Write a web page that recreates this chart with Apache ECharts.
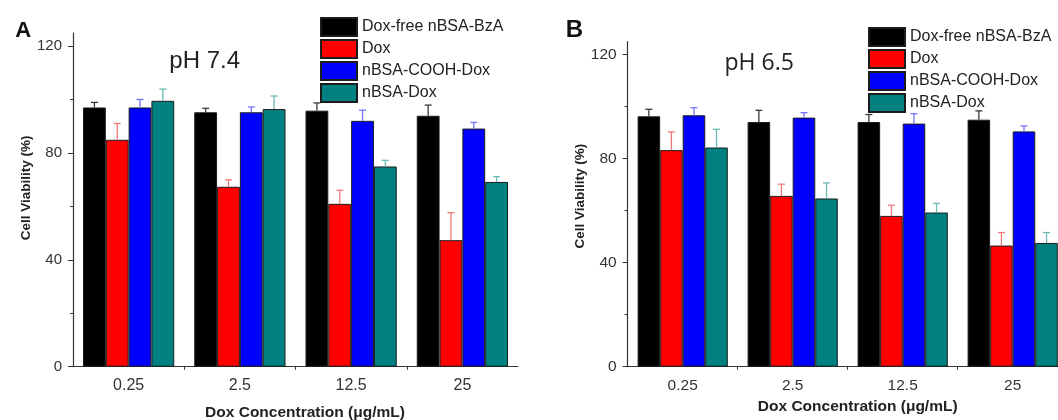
<!DOCTYPE html>
<html>
<head>
<meta charset="utf-8">
<script src="https://cdn.jsdelivr.net/npm/echarts@6/dist/echarts.min.js"></script>
<style>
  html, body { margin: 0; padding: 0; background: #ffffff; }
  #chart { width: 1058px; height: 420px; }
</style>
</head>
<body>
<div id="chart"></div>
<script>
// ---------- data ----------
const categories = ['0.25', '2.5', '12.5', '25'];
const seriesNames = ['Dox-free nBSA-BzA', 'Dox', 'nBSA-COOH-Dox', 'nBSA-Dox'];
const yTickMajor = [0, 40, 80, 120];
const yTickMinor = [20, 60, 100];

// Panel A: pH 7.4
const aFree = [97.1, 95.3, 95.9, 94.0];
const aFreeErr = [1.9, 1.5, 2.9, 4.0];
const aDox = [85.0, 67.4, 61.0, 47.4];
const aDoxErr = [6.1, 2.6, 5.1, 10.3];
const aCooh = [97.1, 95.3, 92.1, 89.2];
const aCoohErr = [3.0, 2.0, 4.0, 2.3];
const aNbsa = [99.6, 96.5, 75.0, 69.2];
const aNbsaErr = [4.4, 4.9, 2.3, 2.0];

// Panel B: pH 6.5
const bFree = [96.3, 94.1, 94.1, 95.0];
const bFreeErr = [2.7, 4.5, 2.9, 3.4];
const bDox = [83.3, 65.7, 58.0, 46.6];
const bDoxErr = [7.0, 4.5, 4.1, 5.0];
const bCooh = [96.7, 95.8, 93.5, 90.5];
const bCoohErr = [2.9, 1.9, 3.8, 2.1];
const bNbsa = [84.3, 64.7, 59.3, 47.6];
const bNbsaErr = [7.0, 6.0, 3.5, 4.0];

// ---------- styles ----------
const barColors = ['#000000', '#ff0000', '#0000ff', '#008080'];
const errColors = ['#3a3a3a', '#f27878', '#7272ff', '#6cbab4'];
const FONT = '"Liberation Sans", Arial, sans-serif';
const CAT_GAP = 0.18;

const chart = echarts.init(document.getElementById('chart'), null, { renderer: 'canvas' });

function errRender(k, color) {
  return function (params, api) {
    const ci = api.value(0), v = api.value(1), e = api.value(2);
    const base = api.coord([ci, v]);
    const top = api.coord([ci, v + e]);
    const band = api.size([1, 0])[0];
    const bw = band * (1 - CAT_GAP) / 4;
    const x = base[0] + (k - 1.5) * bw;
    return {
      type: 'group',
      children: [
        { type: 'line', shape: { x1: x, y1: base[1], x2: x, y2: top[1] }, style: { stroke: color, lineWidth: 1.3 } },
        { type: 'line', shape: { x1: x - 3.5, y1: top[1], x2: x + 3.5, y2: top[1] }, style: { stroke: color, lineWidth: 1.3 } }
      ]
    };
  };
}

function panelSeries(gi, vals, errs) {
  const out = [];
  vals.forEach(function (arr, k) {
    out.push({
      type: 'bar', name: seriesNames[k],
      xAxisIndex: gi * 2, yAxisIndex: gi * 2,
      data: arr,
      barGap: '0%', barCategoryGap: (CAT_GAP * 100) + '%',
      itemStyle: { color: barColors[k], borderColor: '#1c1c1c', borderWidth: 1 },
      z: 2
    });
  });
  vals.forEach(function (arr, k) {
    out.push({
      type: 'custom',
      xAxisIndex: gi * 2, yAxisIndex: gi * 2,
      data: arr.map(function (v, i) { return [i, v, errs[k][i]]; }),
      encode: { x: 0, y: 1 },
      renderItem: errRender(k, errColors[k]),
      clip: false,
      z: 3
    });
  });
  return out;
}

function xAxes(gi, namePad, nameGap, fs) {
  return [
    {
      gridIndex: gi, type: 'category', data: categories,
      axisLine: { lineStyle: { color: '#333', width: 1.2 } },
      axisTick: { alignWithLabel: true, length: 5, lineStyle: { color: '#333' } },
      axisLabel: { margin: 11, fontSize: fs, color: '#333', fontFamily: FONT },
      name: 'Dox Concentration (\u03bcg/mL)', nameLocation: 'middle', nameGap: nameGap,
      nameTextStyle: { fontSize: 15.5, fontWeight: 'bold', color: '#222', fontFamily: FONT, padding: namePad }
    },
    {
      gridIndex: gi, type: 'value', min: 0, max: 4, position: 'bottom',
      axisLine: { show: false },
      axisTick: { show: true, customValues: [1, 2, 3], length: 3, lineStyle: { color: '#333' } },
      axisLabel: { show: false }, splitLine: { show: false }
    }
  ];
}

function yAxes(gi, namePad, nameGap, fs) {
  return [
    {
      gridIndex: gi, type: 'value', min: 0, max: 125,
      axisLine: { show: true, lineStyle: { color: '#333', width: 1.2 } },
      axisTick: { show: true, customValues: yTickMajor, length: 5, lineStyle: { color: '#333' } },
      axisLabel: { customValues: yTickMajor, margin: 11, fontSize: fs, color: '#333', fontFamily: FONT },
      splitLine: { show: false },
      name: 'Cell Viability (%)', nameLocation: 'middle', nameGap: nameGap,
      nameTextStyle: { fontSize: 13.5, fontWeight: 'bold', color: '#222', fontFamily: FONT, padding: namePad }
    },
    {
      gridIndex: gi, type: 'value', min: 0, max: 125, position: 'left',
      axisLine: { show: false },
      axisTick: { show: true, customValues: yTickMinor, length: 3, lineStyle: { color: '#333' } },
      axisLabel: { show: false }, splitLine: { show: false }
    }
  ];
}

const legendBase = {
  orient: 'vertical', icon: 'rect', itemWidth: 36, itemHeight: 18, itemGap: 2,
  padding: 0, selectedMode: false, data: seriesNames,
  textStyle: { fontSize: 16, color: '#222', fontFamily: FONT }
};

const option = {
  animation: false,
  backgroundColor: '#ffffff',
  grid: [
    { left: 73, top: 33, width: 445, height: 333.7, outerBoundsMode: 'none', containLabel: false },
    { left: 627.7, top: 41.7, width: 440, height: 325, outerBoundsMode: 'none', containLabel: false }
  ],
  xAxis: [].concat(xAxes(0, [0, 0, 0, 19], 38, 16), xAxes(1, [0, 0, 0, 20], 31, 15.5)),
  yAxis: [].concat(yAxes(0, [0, 0, 0, 24], 38, 15), yAxes(1, [0, 0, 0, 16], 40, 15.5)),
  legend: [
    Object.assign({}, legendBase, { left: 320, top: 17 }),
    Object.assign({}, legendBase, { left: 868, top: 27 })
  ],
  graphic: [
    { type: 'text', x: 23.3, y: 30.5, style: { text: 'A', font: 'bold 22px ' + FONT, fill: '#111', align: 'center', verticalAlign: 'middle' } },
    { type: 'text', x: 574.3, y: 30.5, style: { text: 'B', font: 'bold 24px ' + FONT, fill: '#111', align: 'center', verticalAlign: 'middle' } },
    { type: 'text', x: 204.7, y: 61, style: { text: 'pH 7.4', font: '24px ' + FONT, fill: '#222', align: 'center', verticalAlign: 'middle' } },
    { type: 'text', x: 759.2, y: 63, style: { text: 'pH 6.5', font: '23px "Open Sans", sans-serif', fill: '#222', align: 'center', verticalAlign: 'middle' } }
  ],
  series: [].concat(
    panelSeries(0, [aFree, aDox, aCooh, aNbsa], [aFreeErr, aDoxErr, aCoohErr, aNbsaErr]),
    panelSeries(1, [bFree, bDox, bCooh, bNbsa], [bFreeErr, bDoxErr, bCoohErr, bNbsaErr])
  )
};

chart.setOption(option);
</script>
</body>
</html>
